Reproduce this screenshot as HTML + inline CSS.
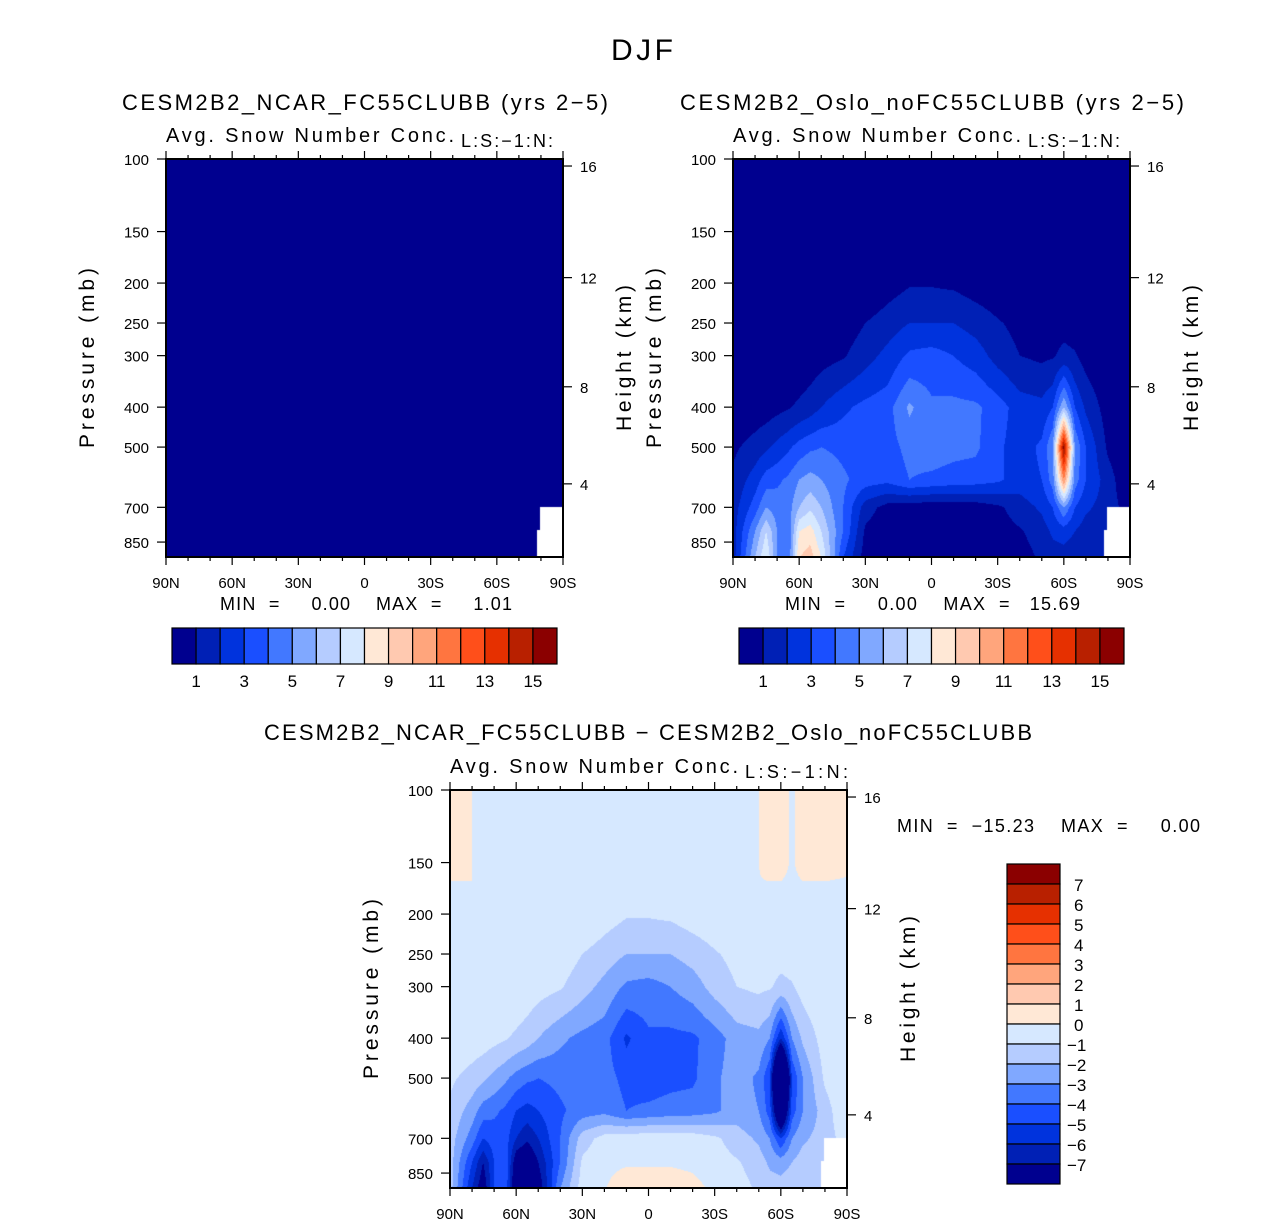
<!DOCTYPE html>
<html><head><meta charset="utf-8">
<style>
html,body{margin:0;padding:0;background:#fff;}
#root{position:relative;width:1285px;height:1226px;overflow:hidden;font-family:"Liberation Sans",sans-serif;}
canvas{position:absolute;}
svg{position:absolute;left:0;top:0;}
text{font-family:"Liberation Sans",sans-serif;fill:#000;white-space:pre;}
</style></head>
<body>
<div id="root">
<canvas id="c1" width="397" height="398" style="left:166px;top:159px"></canvas>
<canvas id="c2" width="397" height="398" style="left:733px;top:159px"></canvas>
<canvas id="c3" width="397" height="398" style="left:450px;top:790px"></canvas>
<svg id="ov" width="1285" height="1226">
<text x="642" y="60" font-size="30" text-anchor="middle" textLength="62">DJF</text>
<text x="365" y="110" font-size="22" text-anchor="middle" textLength="486">CESM2B2_NCAR_FC55CLUBB (yrs 2−5)</text>
<text x="166" y="142" font-size="20" textLength="288">Avg. Snow Number Conc.</text>
<text x="461" y="147" font-size="18" textLength="92">L:S:−1:N:</text>
<text x="932" y="110" font-size="22" text-anchor="middle" textLength="504">CESM2B2_Oslo_noFC55CLUBB (yrs 2−5)</text>
<text x="733" y="142" font-size="20" textLength="288">Avg. Snow Number Conc.</text>
<text x="1028" y="147" font-size="18" textLength="92">L:S:−1:N:</text>
<text x="648" y="740" font-size="22" text-anchor="middle" textLength="768">CESM2B2_NCAR_FC55CLUBB − CESM2B2_Oslo_noFC55CLUBB</text>
<text x="450" y="773" font-size="20" textLength="288">Avg. Snow Number Conc.</text>
<text x="745" y="778" font-size="18" textLength="103">L:S:−1:N:</text>
<text x="220" y="610" font-size="18" xml:space="preserve" textLength="292">MIN  =     0.00    MAX  =     1.01</text>
<text x="785" y="610" font-size="18" xml:space="preserve" textLength="295">MIN  =     0.00    MAX  =   15.69</text>
<text x="897" y="832" font-size="18" xml:space="preserve" textLength="303">MIN  =  −15.23    MAX  =     0.00</text>
</svg>
</div>
<script>
// ---- data ----
const lats = [90,80,75,70,65,60,55,50,40,30,20,10,0,-10,-20,-30,-40,-50,-55,-60,-65,-70,-80,-90];
const levels = [100,150,200,250,300,400,500,600,700,800,925];
const osloRow100 = [-0.3,0,0,0,0,0,0,0,0,0,0,0,0,0,0,0,0,0,-0.3,-0.3,0.1,-0.3,-0.3,-0.3];
const osloRow150 = [-0.3,0,0,0,0,0,0,0,0,0,0,0,0,0,0,0,0,0,-0.3,-0.3,0.1,-0.3,-0.3,-0.2];
const osloRow200 = [0.6,0,0,0,0,0,0,0,0,0,0.5,0.9,0.9,0.8,0.5,0.3,0.2,0.1,0.6,0.6,0.3,0.6,0.6,0.6];
const osloRow250 = [0,0,0,0,0,0,0,0.1,0.4,1.0,1.5,2,2,2,1.6,1.1,0.7,0.5,0.5,0.6,0.5,0.3,0,0];
const osloRow300 = [0,0,0,0,0.1,0.2,0.4,0.6,0.9,1.6,2.3,3.2,3.4,3,2.5,1.6,1,0.8,0.9,1.3,1.1,0.6,0.1,0];
const osloRow400 = [0.2,0.4,0.5,0.7,0.9,1.2,1.5,2,2.8,3.3,3.6,5.2,4.2,4.3,4.2,3.5,2.5,2.3,3,6,3,1.8,0.5,0];
const osloRow500 = [0.8,1.4,1.8,2.3,2.8,3.4,3.8,4,3.7,3.5,3.6,4.3,4.5,4.3,4.2,3.2,2.5,3.2,5,15.5,5,3,0.8,0];
const osloRow600 = [1.2,2.5,3.5,3.8,4.2,5,5.4,5,4.2,3.5,3.3,4,3.8,3.6,3.5,3.2,2.5,3,4.5,11,4.5,3,1.5,0];
const osloRow700 = [1.5,3.5,5,4.5,4.5,6,6.8,6,4,1.5,0.6,0.4,0.3,0.3,0.4,0.8,1.5,2.2,3,5,3,2.2,1.5,0.5];
const osloRow800 = [1.5,5,7,5,4,8,8.5,7,4,0.8,0.2,0.1,0.1,0.1,0.2,0.5,0.9,1.5,2.2,2.5,2,1.5,1.2,0.5];
const osloRow925 = [1.5,6,8,5,4,9,9.5,8,3,0.5,0.05,-0.5,-0.5,-0.5,-0.3,0.2,0.5,1.2,1.5,1.5,1.3,1.2,1,0.5];
const ncarValue = 0;
const palette = ["#00008f","#0020b5","#0033dd","#1a4fff","#4278ff","#80a8ff","#b5ccff","#d6e8ff","#ffe8d6","#ffc9b0","#ffa57c","#ff7540","#ff4f1a","#e63000","#b82000","#8b0000"];
const cbLabelsAbs = ["1","3","5","7","9","11","13","15"];
const cbLabelsDiff = ["7","6","5","4","3","2","1","0","−1","−2","−3","−4","−5","−6","−7"];
const xTickLabels = ["90N","60N","30N","0","30S","60S","90S"];
const pTicks = [100,150,200,250,300,400,500,700,850];
const hTicks = [4,8,12,16];
const hTickPress = [614,357,194,104]; // pressure of 4,8,12,16 km on the axis

const osloGrid = [osloRow100,osloRow150,osloRow200,osloRow250,osloRow300,osloRow400,osloRow500,osloRow600,osloRow700,osloRow800,osloRow925];

// ---- axis functions ----
const W=397,H=398;
const xOfLat = lat => (90-lat)/180*W;
const yOfP = p => 179*Math.log(p/100);
const latOfX = x => 90 - x/W*180;
const pOfY = y => 100*Math.exp(y/179);

function seg(arr, v){
  const desc = arr[0] > arr[arr.length-1];
  for(let i=0;i<arr.length-1;i++){
    const a=arr[i], b=arr[i+1];
    if((desc && v<=a && v>=b) || (!desc && v>=a && v<=b)) return [i,(v-a)/(b-a)];
  }
  return desc ? (v>arr[0]?[0,0]:[arr.length-2,1]) : (v<arr[0]?[0,0]:[arr.length-2,1]);
}
function sampleOslo(lat,p){
  const [i,tx]=seg(lats,lat), [j,ty]=seg(levels,p);
  const g=osloGrid;
  const a=g[j][i]*(1-tx)+g[j][i+1]*tx;
  const b=g[j+1][i]*(1-tx)+g[j+1][i+1]*tx;
  return a*(1-ty)+b*ty;
}
function hex(c){return [parseInt(c.slice(1,3),16),parseInt(c.slice(3,5),16),parseInt(c.slice(5,7),16)];}
const pal = palette.map(hex);
function absIdx(v){return Math.max(0,Math.min(15,Math.floor(v)));}
function diffIdx(v){return Math.max(0,Math.min(15,Math.ceil(v)+7));}
function missing(x,y){return (x>=374 && y>=348)||(x>=371 && y>=371);}
function paint(id, fn, idx){
  const cv=document.getElementById(id), ctx=cv.getContext('2d');
  const im=ctx.createImageData(W,H);
  for(let y=0;y<H;y++)for(let x=0;x<W;x++){
    const k=(y*W+x)*4;
    let c;
    if(missing(x,y)) c=[255,255,255];
    else c=pal[idx(fn(latOfX(x+0.5),pOfY(y+0.5)))];
    im.data[k]=c[0];im.data[k+1]=c[1];im.data[k+2]=c[2];im.data[k+3]=255;
  }
  ctx.putImageData(im,0,0);
}
paint('c1',(lat,p)=>ncarValue,absIdx);
paint('c2',(lat,p)=>sampleOslo(lat,p),absIdx);
paint('c3',(lat,p)=>ncarValue - sampleOslo(lat,p),diffIdx);

// ---- axes ----
const NS='http://www.w3.org/2000/svg';
const ov=document.getElementById('ov');
function mk(tag,attrs){const e=document.createElementNS(NS,tag);for(const k in attrs)e.setAttribute(k,attrs[k]);ov.appendChild(e);return e;}
function line(x1,y1,x2,y2,w){return mk('line',{x1,y1,x2,y2,stroke:'#000','stroke-width':w||1.5});}
function txt(x,y,s,size,anchor){const t=mk('text',{x,y,'font-size':size,'text-anchor':anchor||'middle'});t.textContent=s;return t;}

function axes(ox,oy,prefix){
  const fr=mk('rect',{x:ox,y:oy,width:W,height:H,fill:'none',stroke:'#000','stroke-width':2});
  
  
  for(let lat=90;lat>=-90;lat-=10){
    const x=ox+xOfLat(lat), major=(lat%30===0), L=major?8:4;
    line(x,oy,x,oy-L,1.2); line(x,oy+H,x,oy+H+L,1.2);
  }
  xTickLabels.forEach((s,i)=>{
    const t=txt(ox+i*W/6,oy+H+31,s,15);
    
    
  });
  pTicks.forEach(p=>{
    const y=oy+yOfP(p);
    line(ox,y,ox-9,y,1.2);
    const t=txt(ox-17,y+6,String(p),15,'end');
    
    
  });
  hTicks.forEach((h,i)=>{
    const y=oy+yOfP(hTickPress[i]);
    line(ox+W,y,ox+W+9,y,1.2);
    const t=txt(ox+W+17,y+6,String(h),15,'start');
    
    
  });
  const yl=txt(0,0,'Pressure (mb)',21);
  yl.setAttribute('transform',`translate(${ox-72},${oy+199}) rotate(-90)`);
  yl.setAttribute('textLength','180');
  
  
  const hl=txt(0,0,'Height (km)',21);
  hl.setAttribute('transform',`translate(${ox+W+68},${oy+199}) rotate(-90)`);
  hl.setAttribute('textLength','146');
  
  
}
axes(166,159,'ncar');
axes(733,159,'oslo');
axes(450,790,'diff');

function hbar(ox,oy,prefix){
  const bw=385/16;
  palette.forEach((c,i)=>{
    const r=mk('rect',{x:ox+i*bw,y:oy,width:bw,height:36,fill:c,stroke:'#000','stroke-width':1.2});
    
    
  });
  cbLabelsAbs.forEach((s,i)=>{
    const t=txt(ox+(1+2*i)*bw,oy+59,s,17);
    
    
  });
}
hbar(172,628,'ncar');
hbar(739,628,'oslo');

(function vbar(){
  const ox=1007,oy=864,bh=20;
  palette.slice().reverse().forEach((c,i)=>{
    const r=mk('rect',{x:ox,y:oy+i*bh,width:53,height:bh,fill:c,stroke:'#000','stroke-width':1.2});
    
    
  });
  cbLabelsDiff.forEach((s,i)=>{
    const neg=s.startsWith('−');
    const t=txt(neg?1067:1074,oy+(i+1)*bh+7,s,17,'start');
    
    
  });
})();
</script>
</body></html>
